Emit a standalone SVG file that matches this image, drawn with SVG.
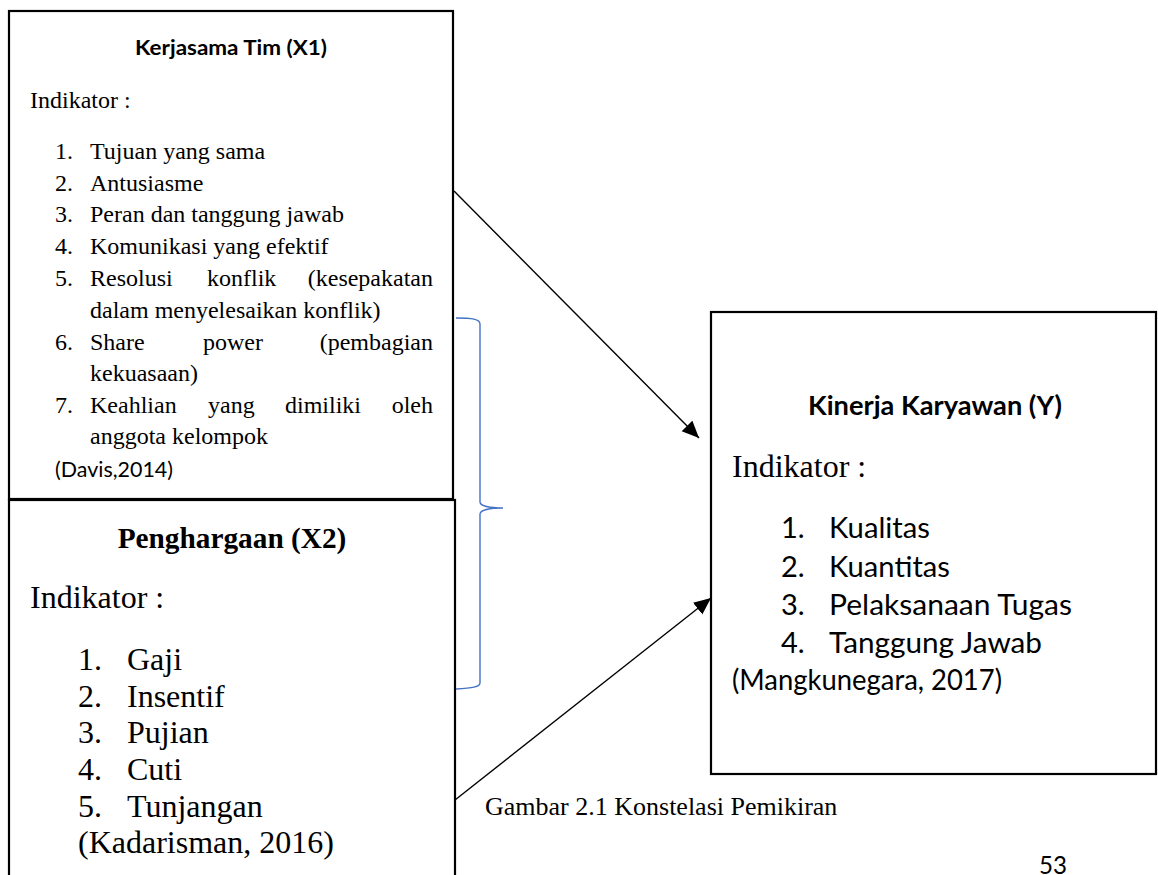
<svg xmlns="http://www.w3.org/2000/svg" width="1158" height="875" viewBox="0 0 1158 875">
<style>
.box{fill:#fff;stroke:#000;stroke-width:2.2}
.tnr{font-family:"Liberation Serif","Times New Roman",serif;fill:#000}
.cal{font-family:Lato,"Liberation Sans",sans-serif;fill:#000}
.s24{font-size:24px}
.s32{font-size:32px}
.conn{stroke:#000;stroke-width:1.4;fill:none}
.brace{stroke:#4472C4;stroke-width:1.4;fill:none}
</style>
<defs>
<marker id="ah" markerUnits="userSpaceOnUse" markerWidth="18" markerHeight="16" refX="17" refY="7.5" orient="auto">
<path d="M0,0 L17,7.5 L0,15 z" fill="#000"/>
</marker>
</defs>
<rect width="1158" height="875" fill="#fff"/>

<g id="node-x1">
<rect class="box" x="9" y="11" width="444" height="488"/>
<text class="cal" x="231" y="55" text-anchor="middle" font-size="21.5" font-weight="bold" textLength="192" lengthAdjust="spacingAndGlyphs">Kerjasama Tim (X1)</text>
<text class="tnr s24" x="30" y="108">Indikator :</text>
<g class="tnr s24">
<text x="55" y="159">1.</text><text x="90" y="159">Tujuan yang sama</text>
<text x="55" y="191">2.</text><text x="90" y="191">Antusiasme</text>
<text x="55" y="222">3.</text><text x="90" y="222">Peran dan tanggung jawab</text>
<text x="55" y="254">4.</text><text x="90" y="254">Komunikasi yang efektif</text>
<text x="55" y="286">5.</text><text x="90" y="286">Resolusi</text><text x="207" y="286">konflik</text><text x="433" y="286" text-anchor="end">(kesepakatan</text>
<text x="90" y="318">dalam menyelesaikan konflik)</text>
<text x="55" y="350">6.</text><text x="90" y="350">Share</text><text x="203" y="350">power</text><text x="433" y="350" text-anchor="end">(pembagian</text>
<text x="90" y="381">kekuasaan)</text>
<text x="55" y="413">7.</text><text x="90" y="413">Keahlian</text><text x="208" y="413">yang</text><text x="285" y="413">dimiliki</text><text x="433" y="413" text-anchor="end">oleh</text>
<text x="90" y="444">anggota kelompok</text>
</g>
<text class="cal" x="55" y="477" font-size="21.5" textLength="118" lengthAdjust="spacingAndGlyphs">(Davis,2014)</text>
</g>

<g id="node-x2">
<rect class="box" x="9" y="500" width="446" height="390"/>
<text class="tnr" x="232" y="548" font-size="29.3" font-weight="bold" text-anchor="middle">Penghargaan (X2)</text>
<text class="tnr s32" x="30" y="608">Indikator :</text>
<g class="tnr s32">
<text x="78" y="670">1.</text><text x="127" y="670">Gaji</text>
<text x="78" y="707">2.</text><text x="127" y="707">Insentif</text>
<text x="78" y="743">3.</text><text x="127" y="743">Pujian</text>
<text x="78" y="780">4.</text><text x="127" y="780">Cuti</text>
<text x="78" y="817">5.</text><text x="127" y="817">Tunjangan</text>
<text x="78" y="853">(Kadarisman, 2016)</text>
</g>
</g>

<g id="node-y">
<rect class="box" x="711" y="312" width="445" height="462"/>
<text class="cal" x="935" y="415" font-size="26.5" font-weight="bold" text-anchor="middle" textLength="254" lengthAdjust="spacingAndGlyphs">Kinerja Karyawan (Y)</text>
<text class="tnr s32" x="732" y="477">Indikator :</text>
<g class="cal" font-size="29">
<text x="781" y="538">1.</text><text x="829" y="538" textLength="101" lengthAdjust="spacingAndGlyphs">Kualitas</text>
<text x="781" y="577">2.</text><text x="829" y="577" textLength="121" lengthAdjust="spacingAndGlyphs">Kuantitas</text>
<text x="781" y="615">3.</text><text x="829" y="615" textLength="243" lengthAdjust="spacingAndGlyphs">Pelaksanaan Tugas</text>
<text x="781" y="653">4.</text><text x="829" y="653" textLength="213" lengthAdjust="spacingAndGlyphs">Tanggung Jawab</text>
<text x="732" y="690" textLength="270" lengthAdjust="spacingAndGlyphs">(Mangkunegara, 2017)</text>
</g>
</g>

<g id="connectors">
<line class="conn" x1="454" y1="191" x2="699" y2="438" marker-end="url(#ah)"/>
<line class="conn" x1="455" y1="800" x2="711" y2="598" marker-end="url(#ah)"/>
<path class="brace" d="M456,318 C472,318 480,319 480,324 L480,502 C480,506 490,508 503,508 C490,508 480,510 480,514 L480,683 C480,687 472,688 456,689"/>
</g>

<text class="tnr" x="485" y="815" font-size="26">Gambar 2.1 Konstelasi Pemikiran</text>
<text class="cal" x="1039" y="874" font-size="25" textLength="28" lengthAdjust="spacingAndGlyphs">53</text>
</svg>
